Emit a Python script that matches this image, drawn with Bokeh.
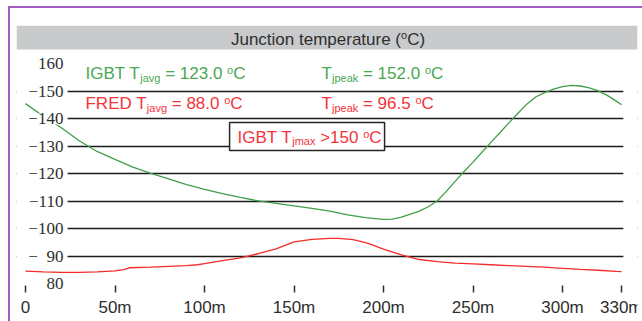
from bokeh.plotting import figure
from bokeh.models import (Range1d, FixedTicker, Grid, BoxAnnotation, Label,
                          LabelSet, ColumnDataSource, InlineStyleSheet)
from bokeh.embed import file_html
from bokeh.resources import INLINE

# ---------------- data ----------------
T_MS = [0, 10, 20, 30, 40, 50, 60, 70, 80, 90, 100, 110, 120, 130, 140, 150,
        160, 170, 180, 190, 200, 205, 210, 215, 220, 225, 230, 235, 240, 245,
        250, 255, 260, 265, 270, 275, 280, 285, 290, 295, 300, 305, 310, 315,
        320, 325, 330, 333]
IGBT_TJ = [145.6, 141.0, 136.8, 132.1, 128.2, 125.3, 122.5, 120.2, 118.2, 116.1,
           114.4, 112.9, 111.5, 110.2, 109.3, 108.4, 107.5, 106.5, 105.1, 104.1,
           103.5, 103.6, 104.3, 105.4, 106.5, 108.1, 110.2, 113.6, 117.3, 120.9,
           124.3, 127.9, 131.5, 135.0, 138.6, 142.0, 145.4, 148.0, 149.6, 150.9,
           151.8, 152.2, 152.0, 151.3, 150.2, 148.6, 146.5, 145.2]

T_FRED_MS = [0, 10, 20, 30, 40, 50, 55, 58, 70, 80, 90, 96, 100, 110, 120, 130,
             140, 150, 160, 170, 175, 183, 190, 193, 200, 210, 220, 230, 240,
             250, 260, 270, 280, 290, 300, 310, 320, 330, 333]
FRED_TJ = [84.7, 84.4, 84.2, 84.2, 84.4, 84.8, 85.2, 85.9, 86.1, 86.4, 86.7, 87.0,
           87.4, 88.5, 89.5, 91.0, 92.8, 95.3, 96.2, 96.6, 96.6, 96.1, 95.0, 94.4,
           92.7, 90.6, 88.9, 88.1, 87.6, 87.3, 87.0, 86.7, 86.4, 86.1, 85.7, 85.3,
           85.0, 84.6, 84.5]

X_TICKS = [0, 50, 100, 150, 200, 250, 300, 333]
X_TICK_LABELS = ["0", "50m", "100m", "150m", "200m", "250m", "300m", "330m"]
Y_LABEL_VALUES = [80, 90, 100, 110, 120, 130, 140, 150, 160]
Y_LABEL_TEXT = ["80", "\u2212\u200790", "\u2212100", "\u2212110", "\u2212120",
                "\u2212130", "\u2212140", "\u2212150", "160"]
GRID_VALUES = [90, 100, 110, 120, 130, 140, 150]

TITLE = [("Junction temperature (", 17, 0), ("o", 11, 4), ("C)", 17, 0)]
IGBT_AVG = [("IGBT T", 17, 0), ("javg", 11, -4), (" = 123.0 ", 17, 0), ("o", 11, 3.5), ("C", 17, 0)]
IGBT_PEAK = [("T", 17, 0), ("jpeak", 11, -4), (" = 152.0 ", 17, 0), ("o", 11, 3.5), ("C", 17, 0)]
FRED_AVG = [("FRED T", 17, 0), ("javg", 11, -4), (" = 88.0 ", 17, 0), ("o", 11, 3.5), ("C", 17, 0)]
FRED_PEAK = [("T", 17, 0), ("jpeak", 11, -4), (" = 96.5 ", 17, 0), ("o", 11, 3.5), ("C", 17, 0)]
WARN = [("IGBT T", 17, 0), ("jmax", 11, -4), (" >150 ", 17, 0), ("o", 11, 3.5), ("C", 17, 0)]

# ---------------- style ----------------
FONT = "Liberation Sans"
GREEN_LINE = "#3f9f47"
GREEN_TEXT = "#4aa752"
RED_LINE = "#f52a2a"
RED_TEXT = "#f5333a"
DARK = "#2e2e2e"
GRAY_BAR = "#c9cacc"
PURPLE = "#a35cc0"
TEXT_LIFT = 5

ARIAL = {' ': 278, '.': 278, '=': 584, '>': 584, '(': 333, ')': 333,
         'A': 667, 'B': 667, 'C': 722, 'D': 722, 'E': 667, 'F': 611, 'G': 778,
         'I': 278, 'J': 500, 'R': 722, 'T': 611,
         'a': 556, 'c': 500, 'e': 556, 'g': 556, 'i': 222, 'j': 222, 'k': 500,
         'm': 833, 'n': 556, 'o': 556, 'p': 556, 'r': 333, 't': 278, 'u': 556,
         'v': 500, 'x': 500}


def text_w(s, size):
    return sum(ARIAL.get(ch, 556) for ch in s) / 1000.0 * size


p = figure(width=642, height=321, output_backend="svg", toolbar_location=None,
           x_range=Range1d(-5.03, 341.9), y_range=Range1d(66.36, 174.0),
           y_axis_location=None, min_border_left=16, min_border_right=5,
           min_border_top=25, min_border_bottom=0)
p.outline_line_color = None
p.background_fill_color = "white"
p.border_fill_color = "white"
p.grid.visible = False
p.stylesheets = [InlineStyleSheet(css=(
    ":host::after{content:'';position:absolute;left:8px;top:6px;"
    "width:700px;height:400px;border-left:2px solid " + PURPLE + ";"
    "border-top:2px solid " + PURPLE + ";pointer-events:none;z-index:10;}"))]

# horizontal grid lines, limited on both sides by white masks
grid = Grid(dimension=1, ticker=FixedTicker(ticks=GRID_VALUES),
            grid_line_color="#1a1a1a", grid_line_width=1.6)
p.add_layout(grid, "center")
p.add_layout(BoxAnnotation(right=23.5, fill_color="white", fill_alpha=1,
                           line_color=None, level="underlay"))
p.add_layout(BoxAnnotation(left=334, fill_color="white", fill_alpha=1,
                           line_color=None, level="underlay"))
p.add_layout(BoxAnnotation(bottom=165.3, fill_color=GRAY_BAR, fill_alpha=1,
                           line_color=None, level="underlay"))

# x axis, drawn inside the frame just under the 80 level
ax = p.xaxis[0]
ax.fixed_location = 79.45
ax.ticker = FixedTicker(ticks=X_TICKS)
ax.major_label_overrides = {t: s for t, s in zip(X_TICKS, X_TICK_LABELS)}
ax.axis_line_color = None
ax.major_tick_in = 0
ax.major_tick_out = 7
ax.major_tick_line_color = DARK
ax.major_tick_line_width = 1.5
ax.minor_tick_line_color = None
ax.major_label_standoff = 5
ax.major_label_text_font = FONT
ax.major_label_text_font_size = "17px"
ax.major_label_text_color = DARK

# curves
p.line(T_MS, IGBT_TJ, line_color=GREEN_LINE, line_width=1.3)
p.line(T_FRED_MS, FRED_TJ, line_color=RED_LINE, line_width=1.3)

# y tick labels drawn over the plot area
ysrc = ColumnDataSource(dict(y=Y_LABEL_VALUES, text=Y_LABEL_TEXT))
p.add_layout(LabelSet(x=21.2, y="y", text="text", source=ysrc,
                      text_align="right", text_baseline="middle",
                      text_font=FONT, text_font_size="17px", text_color=DARK,
                      background_fill_color="white", background_fill_alpha=1))

# warning box
p.add_layout(BoxAnnotation(left=114.0, right=200.6, bottom=128.5, top=138.7,
                           fill_color="white", fill_alpha=1,
                           line_color="#262626", line_alpha=1, line_width=1.5))


def rich(x, y, pieces, color, center=False, lift=TEXT_LIFT):
    widths = [text_w(t, s) for t, s, _ in pieces]
    off = -sum(widths) / 2.0 if center else 0.0
    for (t, s, dy), w in zip(pieces, widths):
        lead = text_w(t[:len(t) - len(t.lstrip())], s)
        p.add_layout(Label(x=x, y=y, x_offset=off + lead, y_offset=dy + lift,
                           text=t.strip(), text_font=FONT,
                           text_font_size=f"{s}px", text_color=color,
                           text_align="left", text_baseline="alphabetic"))
        off += w


rich(169.0, 166.4, TITLE, DARK, center=True, lift=TEXT_LIFT + 2)
rich(33.5, 154.7, IGBT_AVG, GREEN_TEXT)
rich(165.4, 154.7, IGBT_PEAK, GREEN_TEXT)
rich(33.5, 143.8, FRED_AVG, RED_TEXT)
rich(165.4, 143.8, FRED_PEAK, RED_TEXT)
rich(118.4, 131.5, WARN, RED_TEXT)

open("out.html", "w").write(file_html(p, INLINE))
